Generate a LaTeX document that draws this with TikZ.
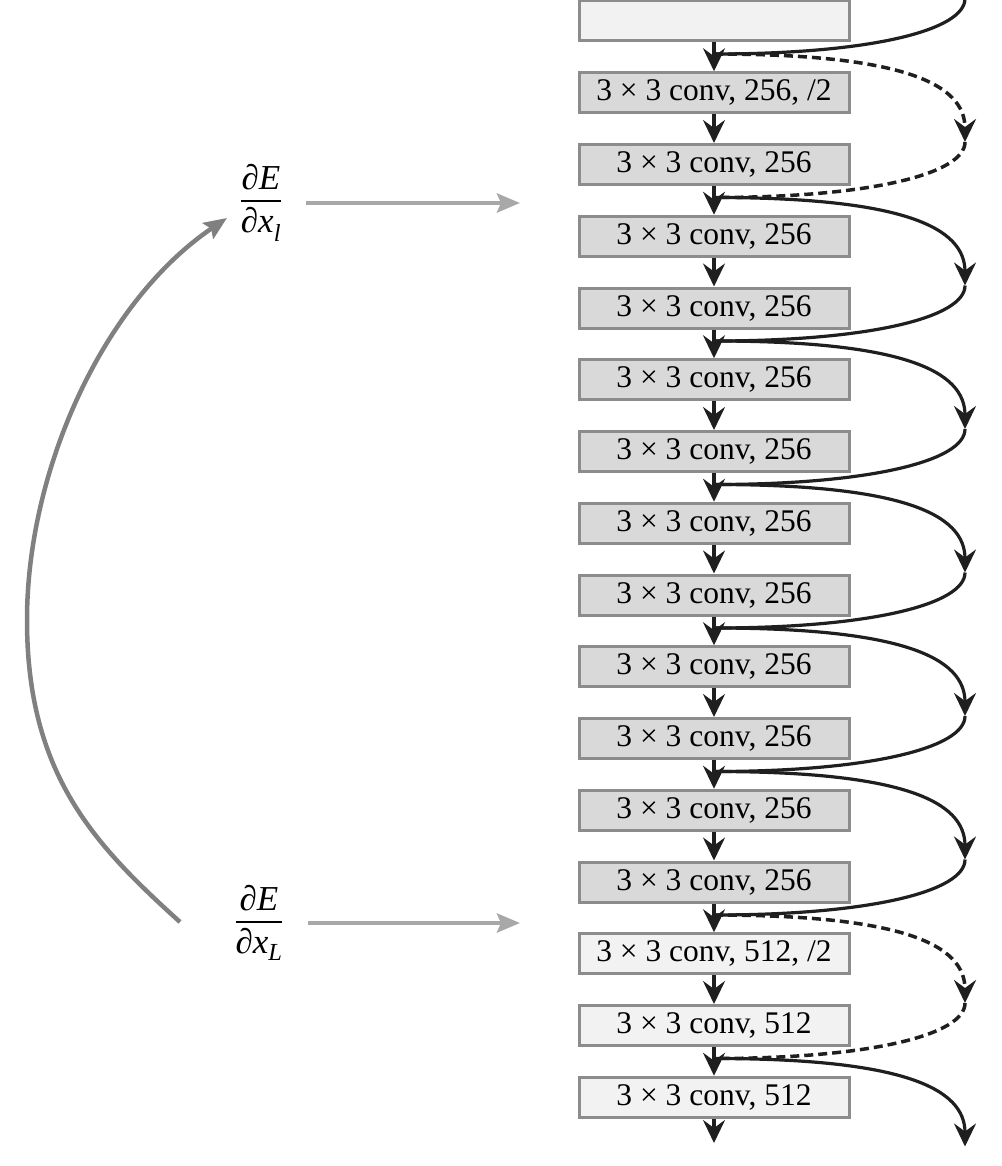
\documentclass[tikz,border=0pt]{standalone}
\usepackage{amsmath}
\usepackage{fontspec}
\setmainfont{Liberation Serif}
\usepackage{tikz}
\usetikzlibrary{arrows.meta}

\definecolor{boxdark}{gray}{0.85}
\definecolor{boxlight}{gray}{0.95}
\definecolor{boxline}{gray}{0.55}
\definecolor{gradgrey}{gray}{0.66}
\definecolor{backgrey}{gray}{0.5}

\begin{document}
\begin{tikzpicture}[x=1pt,y=-1pt]
  \tikzset{convbox/.style = {shape=rectangle,draw=boxline,line width=3pt,minimum width=270pt,minimum height=40pt,inner sep=0pt,font=\fontsize{31.5}{36}\selectfont}}
  \tikzset{darkbox/.style = {convbox,fill=boxdark}}
  \tikzset{lightbox/.style = {convbox,fill=boxlight}}
  \tikzset{flow/.style = {-blkA,line width=3.2pt,black!88}}
  \tikzset{skipline/.style = {line width=3.2pt,black!88}}
  \tikzset{projdash/.style = {line width=3.5pt,dash pattern=on 9pt off 5pt}}
  \tikzset{identline/.style = {solid}}
  \tikzset{grad/.style = {-gA,line width=4.5pt,gradgrey}}
  \tikzset{backprop/.style = {-gA,line width=4.5pt,backgrey}}
  \tikzset{gradfrac/.style = {font=\fontsize{35}{42}\selectfont,inner sep=2pt}}
  \tikzset{%
  blkA/.tip={Stealth[length=23pt,width=22pt,inset=8pt]},
  gA/.tip={Stealth[length=23pt,width=19pt,inset=4pt]},
}

	\path[use as bounding box,clip] (0,0) rectangle (1001,1166);

	% conv layers
	\node[lightbox] (b0) at (714,21) {};
	\node[darkbox] (b1) at (714,92.75) {3 × 3 conv, 256, /2};
	\foreach \k in {2,...,12}
	\node[darkbox] (b\k) at (714,21+71.75*\k) {3 × 3 conv, 256};
	\node[lightbox] (b13) at (714,953.75) {3 × 3 conv, 512, /2};
	\node[lightbox] (b14) at (714,1025.5) {3 × 3 conv, 512};
	\node[lightbox] (b15) at (714,1097.25) {3 × 3 conv, 512};

	% merge points and shortcut turns
	\foreach \j in {0,...,7}
	{
	\coordinate (j\j) at (714,54+143.5*\j);
	\coordinate (m\j) at (965,142+143.5*\j);
	}
	\coordinate (mtop) at (965,-1.5);
	\coordinate (out) at (714,1143);

	\foreach \k [count=\n from 1] in {0,...,14}
	\draw[flow] (b\k.south) -- (b\n.north);
	\draw[flow] (b15.south) -- (out);

	% shortcuts
	\draw[skipline] (mtop) .. controls +(0,32) and +(156,0) .. (j0);
	\foreach \a/\b/\s in {0/1/projdash, 1/2/identline, 2/3/identline, 3/4/identline, 4/5/identline, 5/6/identline, 6/7/projdash}
	{
	\draw[skipline,\s,-blkA] (j\a) .. controls +(190,0) and +(0,-58) .. (m\a);
	\draw[skipline,\s] (m\a) .. controls +(0,32) and +(156,0) .. (j\b);
	}
	\draw[skipline,-blkA] (j7) .. controls +(190,0) and +(0,-58) .. (m7);

	% gradients
	\node[gradfrac] (dl) at (261,203) {$\genfrac{}{}{1.8pt}{0}{\text{∂\itshape E}\rule[-5pt]{0pt}{5pt}}{\text{∂\itshape x}_{\text{\raisebox{-3pt}{\itshape l}}}}$};
	\node[gradfrac] (dL) at (259,923) {$\genfrac{}{}{1.8pt}{0}{\text{∂\itshape E}\rule[-5pt]{0pt}{5pt}}{\text{∂\itshape x}_{\text{\raisebox{-3pt}{\itshape L}}}}$};
	\coordinate (gl) at (520,203);
	\coordinate (gL) at (520,923);
	\draw[grad] (dl.east |- gl) ++(22,0) -- (gl);
	\draw[grad] (dL.east |- gL) ++(22,0) -- (gL);

	\coordinate (arcS) at (180,922);
	\coordinate (arcL) at (27,620);
	\coordinate (arcE) at (227,218);
	\draw[backprop] (arcS) .. controls (95,845) and (27,775) .. (arcL) .. controls (27,470) and (103,302) .. (arcE);

\end{tikzpicture}
\end{document}
